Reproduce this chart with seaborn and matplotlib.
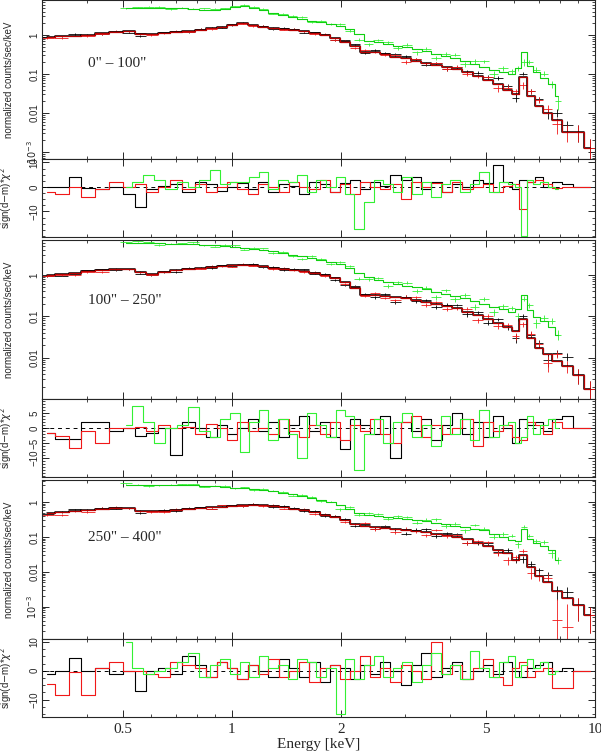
import numpy as np
import matplotlib
matplotlib.use("Agg")
import matplotlib.pyplot as plt
import seaborn as sns
from matplotlib.ticker import FixedLocator, NullFormatter, FuncFormatter, LogLocator, AutoMinorLocator

# energy bins (keV)
mos_e = [0.31, 0.34, 0.37, 0.40, 0.44, 0.48, 0.52, 0.56, 0.60, 0.65,
         0.70, 0.76, 0.82, 0.88, 0.94, 1.00, 1.07, 1.14, 1.22, 1.30,
         1.39, 1.48, 1.58, 1.69, 1.80, 1.92, 2.05, 2.19, 2.33, 2.48,
         2.64, 2.82, 3.01, 3.21, 3.43, 3.66, 3.91, 4.17, 4.45, 4.75,
         5.07, 5.41, 5.75, 6.05, 6.34, 6.65, 7.00, 7.40, 7.85, 8.40,
         9.00, 9.70]
pn_e = [0.51, 0.55, 0.59, 0.63, 0.68, 0.73, 0.78, 0.84, 0.90, 0.96,
        1.02, 1.08, 1.15, 1.22, 1.30, 1.38, 1.47, 1.56, 1.66, 1.76,
        1.87, 1.99, 2.11, 2.24, 2.38, 2.53, 2.69, 2.86, 3.04, 3.23,
        3.43, 3.65, 3.88, 4.12, 4.38, 4.66, 4.95, 5.26, 5.59, 5.90,
        6.15, 6.36, 6.60, 6.90, 7.25, 7.60, 7.90]

# models (normalized counts/sec/keV)
mos_model_1 = [0.89, 0.92, 0.97, 1.02, 1.10, 1.22, 1.25, 1.06, 1.08, 1.13,
               1.20, 1.28, 1.38, 1.48, 1.62, 1.78, 2.00, 1.82, 1.65, 1.52,
               1.45, 1.38, 1.25, 1.10, 0.98, 0.82, 0.68, 0.52, 0.37, 0.37,
               0.33, 0.28, 0.25, 0.21, 0.19, 0.17, 0.155, 0.135, 0.115, 0.09,
               0.072, 0.055, 0.040, 0.030, 0.084, 0.028, 0.015, 0.010, 0.0068, 0.0033,
               0.0033, 0.0013]
pn_model_1 = [4.8, 4.85, 4.9, 4.9, 4.85, 4.8, 4.7, 4.5, 4.3, 4.7,
              5.2, 5.6, 4.9, 4.3, 3.7, 3.3, 2.9, 2.6, 2.35, 2.15,
              1.95, 1.75, 1.45, 1.05, 0.72, 0.66, 0.60, 0.53, 0.48, 0.43,
              0.39, 0.33, 0.29, 0.26, 0.22, 0.185, 0.155, 0.13, 0.115, 0.10,
              0.14, 0.37, 0.16, 0.11, 0.08, 0.055, 0.028]
mos_model_2 = [0.97, 1.05, 1.13, 1.22, 1.30, 1.38, 1.36, 1.15, 1.06, 1.18,
               1.32, 1.42, 1.50, 1.58, 1.65, 1.70, 1.76, 1.75, 1.62, 1.48,
               1.40, 1.35, 1.26, 1.12, 0.98, 0.82, 0.66, 0.48, 0.33, 0.32,
               0.31, 0.29, 0.27, 0.25, 0.22, 0.20, 0.175, 0.155, 0.13, 0.108,
               0.088, 0.067, 0.054, 0.045, 0.084, 0.030, 0.017, 0.012, 0.0085, 0.0064,
               0.0038, 0.0017]
pn_model_2 = [5.9, 5.9, 5.8, 5.8, 5.7, 5.6, 5.6, 5.4, 5.2, 5.0,
              4.8, 4.6, 4.3, 4.0, 3.7, 3.4, 3.1, 2.85, 2.55, 2.3,
              2.05, 1.8, 1.45, 1.1, 0.88, 0.75, 0.66, 0.59, 0.54, 0.50,
              0.45, 0.39, 0.35, 0.31, 0.27, 0.23, 0.20, 0.17, 0.15, 0.13,
              0.15, 0.33, 0.14, 0.095, 0.075, 0.055, 0.036]
mos_model_3 = [0.48, 0.52, 0.56, 0.60, 0.64, 0.68, 0.66, 0.56, 0.54, 0.56,
               0.58, 0.62, 0.66, 0.70, 0.74, 0.78, 0.82, 0.84, 0.80, 0.75,
               0.70, 0.65, 0.60, 0.52, 0.44, 0.37, 0.30, 0.24, 0.21, 0.19,
               0.18, 0.165, 0.155, 0.145, 0.135, 0.125, 0.115, 0.10, 0.085, 0.068,
               0.055, 0.043, 0.034, 0.022, 0.031, 0.014, 0.0078, 0.0050, 0.0028, 0.0018,
               0.0011, 0.00058]
pn_model_3 = [3.1, 3.05, 3.0, 3.0, 3.05, 3.1, 3.0, 2.9, 2.8, 2.7,
              2.6, 2.5, 2.35, 2.2, 2.05, 1.85, 1.65, 1.45, 1.3, 1.16,
              0.98, 0.80, 0.64, 0.50, 0.44, 0.40, 0.38, 0.36, 0.33, 0.31,
              0.28, 0.26, 0.23, 0.21, 0.19, 0.17, 0.155, 0.125, 0.10, 0.082,
              0.078, 0.17, 0.085, 0.068, 0.055, 0.042, 0.022]

# residuals sign(d-m)*chi^2
black_res_1 = [0, 0, 4, -0.5, -1, 0, -3, -8, -1, 0.5,
               1, -2, 2, 1, -1.5, 0, 1.5, -1, 2, -2,
               1, 0.5, -3, 2, 1, -2, 1.5, 3, -1, 2,
               0.5, 5, 3, 4, -1, 2, -2, 1, 0, 3,
               1.5, 9, 2, -1, 3, 2, 4, 0, 2, 1,
               0, 0]
red_res_1 = [-2, -3, 0, -4, -1, 2, 0, 1, -2, 0,
             3, -1, 1, -2, 0, 2, -1, -3, 1, 0,
             -2, 2, 0, -1, 3, -2, 1, -3, 2, 0,
             -1, 1, -5, 2, 0, 1.5, -2, 2, -1, 0,
             1, -2, 0.5, 1, -9, 2, 3, 1, -0.5, 0,
             0, 0]
green_res_1 = [0, 2, 5, 3, -1, 2, 0, 3, 7, 1,
               2, 2, 4, 6, -1, 3, 2, 5, -2, 3,
               0, 4, -3, -17, -6, 3, 1, -2, 4, -3,
               2, -4, 1, 3, -2, 1, 6, -2, 2, 1,
               0, -20, 3, 1, 2, 0, -1]
black_res_2 = [-1.5, -3.5, -3.5, 2, 2, -1, 0, -2.5, -1.5, 0,
               -9, 2, 0, -3, 1, -2, 0, 3, -1, 2,
               -3, 1, 4, -1, 2, -3, -7, 3, 1, -2,
               4, -10, 2, -1, 3, -4, 1, 5, -2, 2,
               -3, 4, 0, -5, 3, 1, 2, -1, 3, 4,
               0, 0]
red_res_2 = [-1.5, -2.5, -6.5, -1, -5, 0, 0, 0.5, -1, 1,
             0, 0.5, -2, 1.5, 0, -4, 2, -1, 0, -2,
             3, -1, -3, 1, -2, 2, -4, 1, -1, 3,
             -2, -5, 2, 4, -3, 1, -2, 0, 3, -6,
             2, -1, 1, -3, -4, 2, 1, -2, 2, 0,
             0, 0]
green_res_2 = [1, 7.5, 2, -5, 0, 1, 7, -1, -3, 3,
               5, -8, 2, 6, -4, 3, -2, -10, 5, 1,
               -3, 6, 4, -14, -2, 3, -5, 2, 5, -3,
               1, -6, 4, -2, 3, -4, 6, -3, 1, 2,
               -5, -3, 4, -2, 1, 3, 0]
black_res_3 = [-1, 0, 4.5, 0, 1, -1, 0, -7, 0, 1,
               -1, 5, 2, -2, 3, 1, -3, 2, 0, -2,
               4, 1, -2, 3, -4, 2, 1, -3, 2, -1,
               3, 0, -5, 2, 6, -2, 1, 3, -3, 0,
               2, -1, 3, 0, -2, 1, 2, 3, 0, 1,
               0, 0]
red_res_3 = [-4.5, -8.5, -0.5, -8.5, 1, 3, 0, 0, -1, -2,
             3, 2, 1, -2, 3, 1, -3, 2, -1, 4,
             -2, 0, 3, -4, 1, 2, -3, 0, 5, -2,
             1, -4, 2, 0, -3, 10, -1, 2, -3, 1,
             4, -2, -5, 1, 3, -2, 0, 1, -6, -6,
             0, 0]
green_res_3 = [10, 1, -1, 0, 1, 3, 6, -2, 2, 4,
               -1, 3, -2, 5, 1, 2, -3, 4, 3, -2,
               1, -15, 4, -3, 2, 5, -2, 1, 3, -4,
               2, 6, -1, 2, -3, 7, 1, -2, 3, 5,
               -2, 2, 4, 1, 3, -1, 0]

labels = ['0" \u2013 100"', '100" \u2013 250"', '250" \u2013 400"']
spec_ticks = [[1e-3, 1e-2, 1e-1, 1], [1e-2, 1e-1, 1], [1e-3, 1e-2, 1e-1, 1]]
spec_ylim = [(6.6e-4, 7.9), (1.0e-3, 7.0), (1.2e-4, 4.3)]
res_ylim = [(-20.4, 11.4), (-16.3, 9.7), (-16.0, 11.0)]
res_ticks = [[-10, 0, 10], [-10, -5, 0, 5], [-10, 0, 10]]

panels = [
    (mos_model_1, pn_model_1, black_res_1, red_res_1, green_res_1),
    (mos_model_2, pn_model_2, black_res_2, red_res_2, green_res_2),
    (mos_model_3, pn_model_3, black_res_3, red_res_3, green_res_3),
]

BLACK, RED, GREEN = "black", "#f01818", "#33f033"
RED_M, GREEN_M = "#b80000", "#10d010"


def bin_edges(e):
    e = np.asarray(e, float)
    mid = np.sqrt(e[1:] * e[:-1])
    return np.concatenate([[e[0] ** 2 / mid[0]], mid, [e[-1] ** 2 / mid[-1]]])


def draw_data(ax, e, model, res, base, color):
    e = np.asarray(e, float)
    m = np.asarray(model, float)
    r = np.asarray(res, float)
    rel = np.minimum(base * (m.max() / m) ** 0.4, 0.7)
    sig = rel * m
    d = m + np.sign(r) * np.sqrt(np.abs(r)) * sig
    d = np.maximum(d, 0.15 * m)
    lo = np.minimum(sig, 0.9 * d)
    ed = bin_edges(e)
    ax.errorbar(e, d, xerr=[e - ed[:-1], ed[1:] - e], yerr=[lo, sig],
                fmt="none", ecolor=color, elinewidth=0.6, capsize=0)


def step(ax, e, y, color, lw=1.0, ls="-"):
    sns.lineplot(x=e, y=y, ax=ax, color=color, lw=lw, ls=ls,
                 drawstyle="steps-mid", estimator=None, sort=False, legend=False)


sns.set_style("ticks")
plt.rcParams["font.family"] = ["Liberation Sans", "DejaVu Sans"]
plt.rcParams["xtick.direction"] = "in"
plt.rcParams["ytick.direction"] = "in"
plt.rcParams["xtick.top"] = True
plt.rcParams["ytick.right"] = True
plt.rcParams["axes.linewidth"] = 0.8

fig = plt.figure(figsize=(6.01, 7.53), dpi=100)
left, width = 0.0699, 0.9201
spec_bottoms = [0.7888, 0.4701, 0.1514]
res_bottoms = [0.6853, 0.3665, 0.0478]

spec_fmt = FuncFormatter(lambda v, p: {1.0: "1", 0.1: "0.1", 0.01: "0.01"}.get(round(v, 6), "$10^{-3}$"))
serif = ["Liberation Serif", "DejaVu Serif"]

for i, (mm, pm, br, rr, gr) in enumerate(panels):
    ax = fig.add_axes([left, spec_bottoms[i], width, 0.2112])
    rax = fig.add_axes([left, res_bottoms[i], width, 0.1036])

    # spectra
    draw_data(ax, pn_e, pm, gr, 0.035, GREEN)
    step(ax, pn_e, pm, GREEN_M, lw=0.8)
    draw_data(ax, mos_e, mm, br, 0.035 if i < 2 else 0.045, BLACK)
    draw_data(ax, mos_e, mm, rr, 0.035 if i < 2 else 0.045, RED)
    step(ax, mos_e, mm, BLACK, lw=1.1)
    step(ax, mos_e, mm, RED_M, lw=0.9)
    ax.set_yscale("log")
    ax.set_ylim(*spec_ylim[i])
    ax.yaxis.set_major_locator(FixedLocator(spec_ticks[i]))
    ax.yaxis.set_major_formatter(spec_fmt)
    ax.yaxis.set_minor_locator(LogLocator(base=10, subs=np.arange(2, 10)))
    ax.yaxis.set_minor_formatter(NullFormatter())
    ax.set_ylabel("normalized counts/sec/keV", fontsize=7)
    ax.text(0.083, 0.60 + 0.02 * i, labels[i], transform=ax.transAxes,
            family=serif, fontsize=11, va="center")

    # residuals
    rax.axhline(0, color="black", lw=0.7, ls="--", dashes=(4, 4))
    step(rax, mos_e, br, BLACK, lw=0.8)
    step(rax, mos_e, rr, RED, lw=0.8)
    step(rax, pn_e, gr, GREEN, lw=0.8)
    rax.set_ylim(*res_ylim[i])
    rax.yaxis.set_major_locator(FixedLocator(res_ticks[i]))
    rax.yaxis.set_minor_locator(AutoMinorLocator(5 if i == 1 else 4))
    rax.set_ylabel("sign(d$-$m)*$\\chi^2$", fontsize=7)

    for a in (ax, rax):
        a.set_xscale("log")
        a.set_xlim(0.3, 10)
        a.xaxis.set_major_locator(FixedLocator([0.5, 1, 2, 5, 10]))
        a.xaxis.set_minor_locator(FixedLocator([0.3, 0.4, 0.6, 0.7, 0.8, 0.9, 3, 4, 6, 7, 8, 9]))
        a.xaxis.set_minor_formatter(NullFormatter())
        a.tick_params(axis="both", which="major", length=5, width=0.7)
        a.tick_params(axis="both", which="minor", length=2.5, width=0.6)
        a.tick_params(axis="y", labelsize=7, labelrotation=90, pad=2)
        a.yaxis.set_label_coords(-0.05, 0.5)
        a.set_xlabel("")
        for lab in a.get_yticklabels():
            lab.set_va("center")
        if a is rax and i == 2:
            a.xaxis.set_major_formatter(FuncFormatter(lambda v, p: f"{v:g}"))
            a.tick_params(axis="x", labelsize=11, pad=4)
            for lab in a.get_xticklabels():
                lab.set_family(serif)
            a.set_xlabel("Energy [keV]", family=serif, fontsize=11, labelpad=2)
        else:
            a.xaxis.set_major_formatter(NullFormatter())

fig.savefig("out.png", dpi=100)
